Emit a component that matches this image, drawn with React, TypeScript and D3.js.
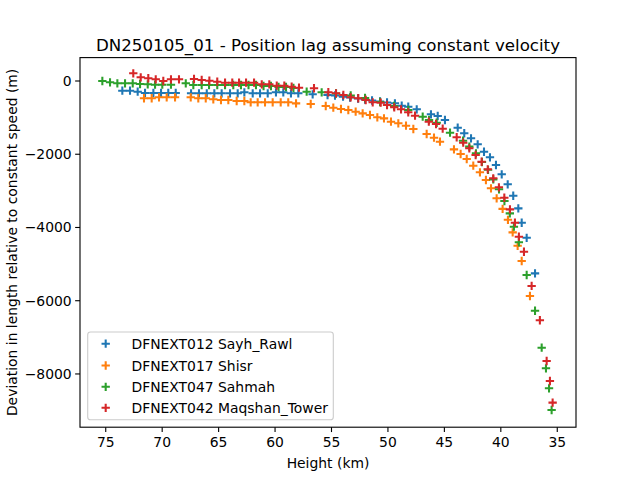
import React from "react";
import * as d3 from "d3";

type Pt = [number, number];

const seriesNames = [
  "DFNEXT012 Sayh_Rawl",
  "DFNEXT017 Shisr",
  "DFNEXT047 Sahmah",
  "DFNEXT042 Maqshan_Tower",
];
const seriesColors = ["#1f77b4", "#ff7f0e", "#2ca02c", "#d62728"];

const sayhRawl: Pt[] = [
  [73.53, -265], [72.85, -265], [72.17, -292], [71.52, -328], [70.78, -328], [70.1, -328],
  [69.46, -328], [68.8, -328], [67.44, -336], [66.74, -336], [66.05, -336], [65.38, -336],
  [64.73, -336], [63.99, -336], [63.31, -336], [62.72, -309], [61.98, -336], [61.33, -336],
  [60.65, -336], [59.92, -309], [59.27, -309], [58.59, -336], [57.94, -336], [56.67, -364],
  [55.35, -382], [54.69, -396], [53.98, -428], [53.36, -450], [52.65, -478], [52.03, -505],
  [51.41, -532], [50.7, -560], [50.08, -587], [49.38, -609], [48.78, -675], [48.2, -702],
  [47.45, -773], [46.19, -910], [45.59, -956], [44.95, -1065], [43.82, -1275], [43.24, -1428],
  [42.64, -1565], [42.05, -1729], [41.49, -1931], [40.96, -2084], [40.43, -2294], [39.92, -2548],
  [39.39, -2821], [38.9, -3133], [38.45, -3478], [38.15, -3870], [37.71, -4282], [36.97, -5254],
];

const shisr: Pt[] = [
  [71.61, -472], [70.93, -472], [70.28, -445], [69.6, -445], [68.86, -445], [67.47, -445],
  [66.8, -472], [66.14, -472], [65.47, -500], [64.79, -519], [64.14, -519], [63.4, -546],
  [62.72, -546], [62.16, -582], [61.54, -582], [60.89, -582], [60.21, -582], [59.5, -582],
  [58.83, -582], [58.14, -610], [56.84, -628], [55.51, -683], [54.84, -729], [54.16, -765],
  [53.51, -792], [52.86, -838], [52.24, -884], [51.59, -929], [50.94, -992], [50.35, -1020],
  [49.73, -1111], [49.08, -1155], [48.4, -1220], [47.75, -1311], [46.57, -1447], [45.92, -1548],
  [45.39, -1657], [44.15, -1867], [43.56, -1994], [43.02, -2130], [42.44, -2313], [41.85, -2494],
  [41.32, -2704], [40.87, -2931], [40.37, -3204], [39.84, -3491], [39.37, -3791], [38.95, -4133],
  [38.51, -4501], [38.15, -4916], [37.42, -5871],
];

const sahmah: Pt[] = [
  [75.3, 0], [74.62, -36], [73.97, -63], [73.29, -63], [72.61, -63], [71.96, -82],
  [71.28, -90], [70.63, -101], [69.99, -101], [69.22, -101], [67.91, -63], [67.24, -109],
  [66.5, -109], [65.85, -109], [65.12, -109], [64.43, -109], [63.7, -109], [63.02, -109],
  [62.35, -109], [61.69, -109], [61.02, -137], [60.36, -137], [59.69, -164], [59.03, -164],
  [58.37, -191], [57.2, -292], [55.87, -309], [54.6, -341], [53.3, -396], [52.03, -464],
  [50.7, -574], [49.46, -683], [48.2, -792], [46.92, -975], [46.36, -1065], [45.68, -1139],
  [44.5, -1411], [43.35, -1630], [42.79, -1793], [42.2, -1975], [41.67, -2212], [41.13, -2425],
  [40.67, -2686], [40.16, -2958], [39.68, -3277], [39.2, -3615], [38.84, -3978], [38.4, -4403],
  [37.71, -5298], [36.97, -6273], [36.38, -7283], [36.0, -7846], [35.73, -8392], [35.5, -8985],
];

const maqshanTower: Pt[] = [
  [72.56, 210], [71.9, 101], [71.23, 74], [70.57, 46], [69.9, 0], [69.22, 46], [68.51, 46],
  [67.18, 55], [66.5, 27], [65.82, 8], [65.12, -19], [64.43, -46], [63.79, -46], [63.19, -46],
  [62.57, -46], [61.86, -46], [61.18, -90], [60.51, -90], [59.85, -128], [59.18, -128],
  [58.53, -155], [57.88, -183], [56.55, -199], [55.28, -308], [54.6, -336], [53.95, -382],
  [53.3, -445], [52.63, -472], [51.97, -519], [51.35, -582], [50.64, -592], [50.08, -655],
  [49.44, -719], [48.84, -773], [48.2, -855], [47.6, -947], [46.38, -1111], [45.74, -1175],
  [45.15, -1302], [43.91, -1537], [43.33, -1684], [42.79, -1838], [42.23, -2021], [41.7, -2204],
  [41.16, -2412], [40.67, -2657], [40.17, -2903], [39.69, -3187], [39.19, -3505], [38.75, -3869],
  [38.4, -4251], [37.95, -4662], [37.27, -5596], [36.54, -6533], [35.94, -7646], [35.65, -8192],
  [35.41, -8784],
];

const allSeries = [sayhRawl, shisr, sahmah, maqshanTower];

const xTicks = [75, 70, 65, 60, 55, 50, 45, 40, 35];
const yTicks = [0, -2000, -4000, -6000, -8000];
const xDomain: [number, number] = [77.28, 33.34];
const yDomain: [number, number] = [-9454, 639];

const titleText = "DN250105_01 - Position lag assuming constant velocity";
const xLabel = "Height (km)";
const yLabel = "Deviation in length relative to constant speed (m)";

const W = 640, H = 480;
const L = 80, R = 576, T = 57.6, B = 427.2;
const FONT = "DejaVu Sans, sans-serif";

function Plus({ x, y, color, half = 4.17 }: { x: number; y: number; color: string; half?: number }) {
  return (
    <path
      d={`M${x - half},${y}H${x + half}M${x},${y - half}V${y + half}`}
      stroke={color}
      strokeWidth={2.08}
      fill="none"
    />
  );
}

export default function App() {
  const x = d3.scaleLinear().domain(xDomain).range([L, R]);
  const y = d3.scaleLinear().domain(yDomain).range([B, T]);
  const fmt = (v: number) => (v < 0 ? "\u2212" + Math.abs(v) : String(v));

  const legX = 87.7, legY = 332, legW = 245.6, legH = 87.7;
  const rowY = [343.7, 365.5, 386.8, 407.8];

  return (
    <svg width={W} height={H} style={{ display: "block", position: "absolute", left: 0, top: 0 }} fontFamily={FONT}>
      <rect x={0} y={0} width={W} height={H} fill="#fff" />
      <defs>
        <clipPath id="plotclip">
          <rect x={L} y={T} width={R - L} height={B - T} />
        </clipPath>
      </defs>
      <g clipPath="url(#plotclip)">
        {allSeries.map((s, i) => (
          <g key={i}>
            {s.map((d, j) => (
              <Plus key={j} x={x(d[0])} y={y(d[1])} color={seriesColors[i]} />
            ))}
          </g>
        ))}
      </g>
      <rect x={L} y={T} width={R - L} height={B - T} fill="none" stroke="#000" strokeWidth={1.11} />
      {xTicks.map((t) => (
        <g key={t}>
          <line x1={x(t)} x2={x(t)} y1={B} y2={B + 4.86} stroke="#000" strokeWidth={1.11} />
          <text x={x(t)} y={B + 19.5} fontSize={13.9} textAnchor="middle" fill="#000">{fmt(t)}</text>
        </g>
      ))}
      {yTicks.map((t) => (
        <g key={t}>
          <line x1={L - 4.86} x2={L} y1={y(t)} y2={y(t)} stroke="#000" strokeWidth={1.11} />
          <text x={L - 8.3} y={y(t) + 5} fontSize={13.9} textAnchor="end" fill="#000">{fmt(t)}</text>
        </g>
      ))}
      <text x={(L + R) / 2} y={467.5} fontSize={13.9} textAnchor="middle" fill="#000">{xLabel}</text>
      <text transform={`translate(16.5,${(T + B) / 2}) rotate(-90)`} fontSize={13.9} textAnchor="middle" fill="#000">{yLabel}</text>
      <text x={(L + R) / 2} y={51} fontSize={16.67} textAnchor="middle" fill="#000">{titleText}</text>
      <rect x={legX} y={legY} width={legW} height={legH} rx={2.8} fill="#fff" fillOpacity={0.8} stroke="#cccccc" strokeWidth={1.11} />
      {seriesNames.map((n, i) => (
        <g key={n}>
          <Plus x={105.7} y={rowY[i]} color={seriesColors[i]} />
          <text x={131.5} y={rowY[i] + 5} fontSize={13.9} fill="#000">{n}</text>
        </g>
      ))}
    </svg>
  );
}
